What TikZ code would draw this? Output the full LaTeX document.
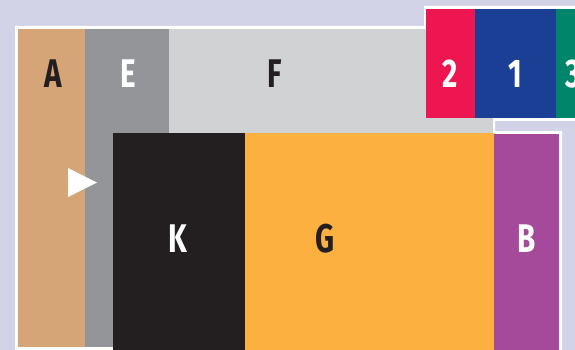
\documentclass[tikz,border=0pt]{standalone}
\usepackage{fontspec}
\newfontfamily\lblfont{Fira Sans}[FakeStretch=0.74]
\definecolor{bgc}{RGB}{211,211,232}
\definecolor{cA}{RGB}{213,165,119}
\definecolor{cE}{RGB}{147,149,152}
\definecolor{cF}{RGB}{209,210,212}
\definecolor{cTwo}{RGB}{237,22,80}
\definecolor{cOne}{RGB}{27,63,148}
\definecolor{cThree}{RGB}{0,133,106}
\definecolor{cK}{RGB}{35,31,32}
\definecolor{cG}{RGB}{251,176,64}
\definecolor{cB}{RGB}{165,74,154}
\definecolor{ink}{RGB}{35,31,32}
\begin{document}
\begin{tikzpicture}[x=1pt,y=-1pt,
  lbl/.style={anchor=base,inner sep=0pt,font=\lblfont\bfseries\fontsize{40}{40}\selectfont},
  dark/.style={lbl,text=ink},
  light/.style={lbl,text=white}]
\useasboundingbox (0,0) rectangle (575,350);
\fill[bgc] (0,0) rectangle (575,350);
% white outline
\fill[white] (15,350) -- (15,26) -- (424,26) -- (424,6) -- (575,6) -- (575,121)
  -- (495,121) -- (495,131) -- (562,131) -- (562,350) -- cycle;
% blocks
\fill[cA] (18,29) rectangle (85,347);
\fill[cE] (85,29) rectangle (169,347);
\fill[cF] (169,29) rectangle (493,133);
\fill[cTwo] (426,9) rectangle (475,118);
\fill[cOne] (475,9) rectangle (556,118);
\fill[cThree] (556,9) rectangle (575,118);
\fill[cK] (113,133) rectangle (245,350);
\fill[cG] (245,133) rectangle (494,350);
\fill[cB] (494,134) rectangle (559,350);
% arrow marker
\fill[white] (68,168) -- (97,182.5) -- (68,197) -- cycle;
% labels
\node[dark]  (lA) at (53,88) {A};
\node[light] (lE) at (128,88) {E};
\node[dark]  (lF) at (275,88) {F};
\node[light] (l2) at (450,88) {2};
\node[light] (l1) at (515,88) {1};
\node[light,anchor=base west] (l3) at (565,88) {3};
\node[light] (lK) at (178,252) {K};
\node[dark]  (lG) at (325,252) {G};
\node[light] (lB) at (527,252) {B};
\end{tikzpicture}
\end{document}
